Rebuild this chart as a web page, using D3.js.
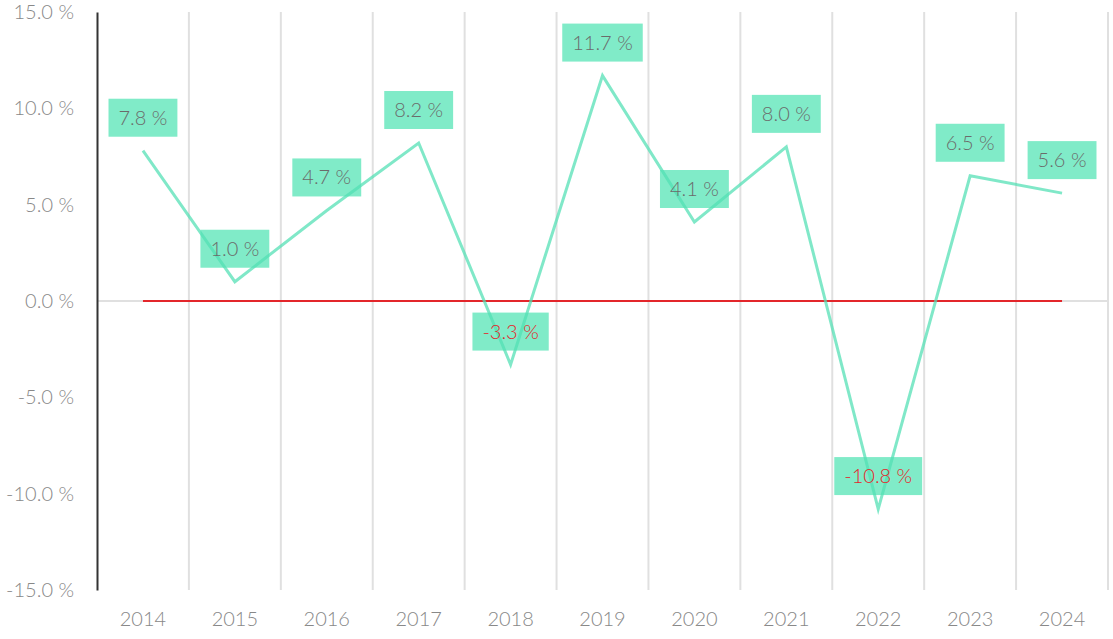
<!DOCTYPE html>
<html>
<head>
<meta charset="utf-8">
<script src="https://cdn.jsdelivr.net/npm/d3@7"></script>
<style>
  body { margin: 0; background: #fff; }
  svg text { font-family: "Source Sans Pro", Lato, "Open Sans", sans-serif; font-weight: 300; }
</style>
</head>
<body>
<div id="chart"></div>
<script>
// yearly growth, in percent
const years = ["2014", "2015", "2016", "2017", "2018", "2019", "2020", "2021", "2022", "2023", "2024"];
const growth = [7.8, 1.0, 4.7, 8.2, -3.3, 11.7, 4.1, 8.0, -10.8, 6.5, 5.6];
const yTicks = [-15, -10, -5, 0, 5, 10, 15];

const width = 1113, height = 639;
const margin = { top: 12, right: 5, bottom: 49, left: 97 };

const lineColor = "rgba(81,223,180,0.73)";
const boxColor = "#80ebc8";
const gridColor = "#e0e0e0";

const svg = d3.select("#chart").append("svg")
  .attr("width", width)
  .attr("height", height);

const x = d3.scaleBand()
  .domain(years)
  .range([margin.left, width - margin.right]);

const y = d3.scaleLinear()
  .domain([-15, 15])
  .range([height - margin.bottom, margin.top]);

const fmt = v => d3.format(".1f")(v).replace("−", "-") + " %";

// vertical grid lines at category boundaries
svg.append("g")
  .selectAll("line")
  .data(years)
  .enter().append("line")
  .attr("x1", d => x(d) + x.bandwidth())
  .attr("x2", d => x(d) + x.bandwidth())
  .attr("y1", y(15))
  .attr("y2", y(-15))
  .attr("stroke", gridColor)
  .attr("stroke-width", 2);

// zero grid line
svg.append("line")
  .attr("x1", margin.left)
  .attr("x2", width - margin.right)
  .attr("y1", y(0))
  .attr("y2", y(0))
  .attr("stroke", gridColor)
  .attr("stroke-width", 2);

// y axis
const yAxis = svg.append("g")
  .attr("transform", `translate(${margin.left},0)`)
  .call(d3.axisLeft(y).tickValues(yTicks).tickFormat(fmt).tickSize(0).tickPadding(23));
yAxis.select(".domain").attr("stroke", "#333").attr("stroke-width", 2);
yAxis.selectAll("text").attr("fill", "#888").attr("font-size", 20);

// x axis labels
const xAxis = svg.append("g")
  .attr("transform", `translate(0,${height - margin.bottom})`)
  .call(d3.axisBottom(x).tickSize(0).tickPadding(22));
xAxis.select(".domain").remove();
xAxis.selectAll("text").attr("fill", "#888").attr("font-size", 20);

// red zero reference line between first and last category
const cx = d => x(d) + x.bandwidth() / 2;
svg.append("line")
  .attr("x1", cx(years[0]))
  .attr("x2", cx(years[years.length - 1]))
  .attr("y1", y(0))
  .attr("y2", y(0))
  .attr("stroke", "#e3262b")
  .attr("stroke-width", 2);

// value label boxes above each point
const labels = svg.append("g")
  .selectAll("g")
  .data(growth)
  .enter().append("g")
  .attr("transform", (d, i) => `translate(${cx(years[i])},${y(d) - 14})`);

labels.each(function(d) {
  const g = d3.select(this);
  const text = g.append("text")
    .text(fmt(d))
    .attr("text-anchor", "middle")
    .attr("font-size", 20)
    .attr("y", -12);
  const bb = text.node().getBBox();
  text.remove();
  g.append("rect")
    .attr("x", -bb.width / 2 - 10)
    .attr("y", -38)
    .attr("width", bb.width + 20)
    .attr("height", 38)
    .attr("fill", boxColor);
});

// data line, over the boxes
const line = d3.line()
  .x((d, i) => cx(years[i]))
  .y(d => y(d));

svg.append("path")
  .datum(growth)
  .attr("d", line)
  .attr("fill", "none")
  .attr("stroke", lineColor)
  .attr("stroke-width", 3);

// label texts on top
svg.append("g")
  .selectAll("text")
  .data(growth)
  .enter().append("text")
  .attr("x", (d, i) => cx(years[i]))
  .attr("y", d => y(d) - 26)
  .attr("text-anchor", "middle")
  .attr("font-size", 20)
  .attr("fill", d => d < 0 ? "#e3262b" : "#6b6b6b")
  .text(fmt);
</script>
</body>
</html>
